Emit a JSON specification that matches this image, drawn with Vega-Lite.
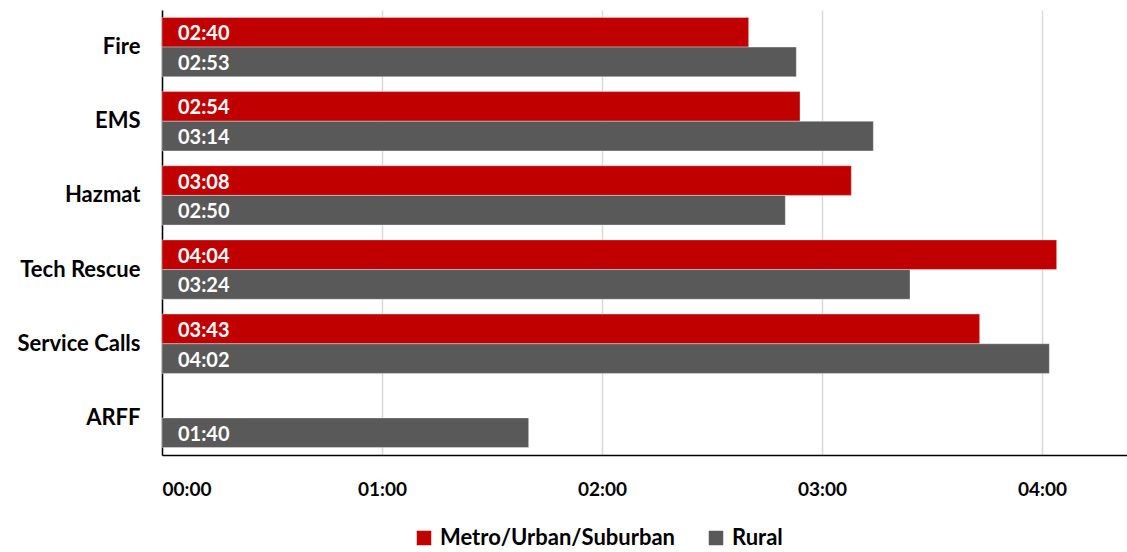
{
  "$schema": "https://vega.github.io/schema/vega-lite/v6.json",
  "width": 965,
  "height": 445,
  "autosize": {"type": "none"},
  "padding": {"left": 162, "top": 10, "right": 0, "bottom": 97},
  "background": "white",
  "config": {
    "font": "Lato",
    "view": {"stroke": null}
  },
  "data": {
    "values": [
      {"type": "Fire", "area": "Metro/Urban/Suburban", "seconds": 160},
      {"type": "Fire", "area": "Rural", "seconds": 173},
      {"type": "EMS", "area": "Metro/Urban/Suburban", "seconds": 174},
      {"type": "EMS", "area": "Rural", "seconds": 194},
      {"type": "Hazmat", "area": "Metro/Urban/Suburban", "seconds": 188},
      {"type": "Hazmat", "area": "Rural", "seconds": 170},
      {"type": "Tech Rescue", "area": "Metro/Urban/Suburban", "seconds": 244},
      {"type": "Tech Rescue", "area": "Rural", "seconds": 204},
      {"type": "Service Calls", "area": "Metro/Urban/Suburban", "seconds": 223},
      {"type": "Service Calls", "area": "Rural", "seconds": 242},
      {"type": "ARFF", "area": "Rural", "seconds": 100}
    ]
  },
  "transform": [
    {"calculate": "floor(datum.seconds / 60)", "as": "mm"},
    {"calculate": "datum.seconds % 60", "as": "ss"},
    {"calculate": "(datum.mm < 10 ? '0' : '') + datum.mm + ':' + (datum.ss < 10 ? '0' : '') + datum.ss", "as": "label"}
  ],
  "encoding": {
    "y": {
      "field": "type",
      "type": "nominal",
      "sort": ["Fire", "EMS", "Hazmat", "Tech Rescue", "Service Calls", "ARFF"],
      "scale": {"paddingInner": 0.2, "paddingOuter": 0.1},
      "axis": {
        "title": null,
        "ticks": false,
        "domainColor": "#000000",
        "domainWidth": 1.5,
        "labelFont": "Lato",
        "labelFontSize": 22,
        "labelFontWeight": "bold",
        "labelColor": "#000000",
        "labelPadding": 22,
        "labelLimit": 300
      }
    },
    "yOffset": {
      "field": "area",
      "type": "nominal",
      "sort": ["Metro/Urban/Suburban", "Rural"],
      "scale": {"paddingInner": 0, "paddingOuter": 0}
    }
  },
  "layer": [
    {
      "mark": {"type": "bar", "strokeWidth": 1, "strokeOpacity": 0.35, "stroke": "#ffffff"},
      "encoding": {
        "x": {
          "field": "seconds",
          "type": "quantitative",
          "scale": {"domain": [0, 263.18], "nice": false, "zero": true},
          "axis": {
            "title": null,
            "values": [0, 60, 120, 180, 240],
            "labelExpr": "'0' + floor(datum.value / 60) + ':00'",
            "ticks": false,
            "grid": true,
            "gridColor": "#d9d9d9",
            "gridWidth": 1.5,
            "domainColor": "#000000",
            "domainWidth": 1.5,
            "labelFont": "Lato",
            "labelFontSize": 19,
            "labelFontWeight": "bold",
            "labelColor": "#000000",
            "labelPadding": 25
          }
        },
        "color": {
          "field": "area",
          "type": "nominal",
          "sort": ["Metro/Urban/Suburban", "Rural"],
          "scale": {"domain": ["Metro/Urban/Suburban", "Rural"], "range": ["#C00000", "#595959"]},
          "legend": {
            "title": null,
            "orient": "none",
            "direction": "horizontal",
            "legendX": 251,
            "legendY": 517,
            "symbolType": "square",
            "symbolSize": 210,
            "symbolStrokeWidth": 0,
            "labelFont": "Lato",
            "labelFontSize": 22,
            "labelFontWeight": "bold",
            "labelColor": "#000000",
            "labelOffset": 5,
            "labelLimit": 400,
            "columnPadding": 30
          }
        }
      }
    },
    {
      "mark": {
        "type": "text",
        "align": "left",
        "baseline": "middle",
        "dx": 16,
        "dy": 2,
        "color": "#ffffff",
        "font": "Lato",
        "fontSize": 20,
        "fontWeight": "bold"
      },
      "encoding": {
        "x": {"datum": 0, "type": "quantitative"},
        "text": {"field": "label"}
      }
    }
  ]
}
